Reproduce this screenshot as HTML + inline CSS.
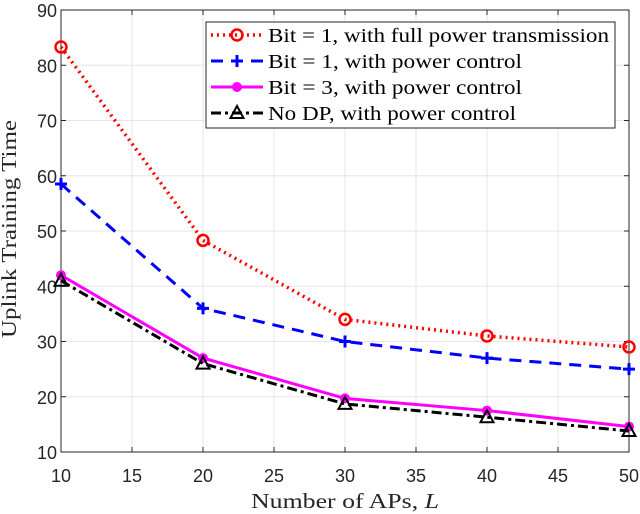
<!DOCTYPE html>
<html><head><meta charset="utf-8"><style>
body{margin:0;background:#fff;}
svg{display:block;}
.tick{font-family:"Liberation Sans",sans-serif;font-size:18px;fill:#262626;}
.lab{font-family:"Liberation Serif",serif;font-size:21px;fill:#262626;}
.leg{font-family:"Liberation Serif",serif;font-size:20px;fill:#000;}
</style></head><body>
<svg id="chart" width="640" height="514" xmlns="http://www.w3.org/2000/svg"></svg>
<script>
const xValues=[10,20,30,40,50];
const redFull=[83.3,48.3,34,31,29];
const bluePC=[58.5,36,30,27,25];
const magBit3=[42,27,19.7,17.5,14.6];
const blackNoDP=[41,26,18.7,16.3,13.8];
const xTicks=[10,15,20,25,30,35,40,45,50];
const yTicks=[10,20,30,40,50,60,70,80,90];
const legendLabels=["Bit = 1, with full power transmission","Bit = 1, with power control","Bit = 3, with power control","No DP, with power control"];
const legendLens=[341,254,254,248];

const NS="http://www.w3.org/2000/svg";
const svg=document.getElementById('chart');
const L=61,R=629,T=10,B=452;
const xs=v=>L+(v-10)/40*(R-L);
const ys=v=>B-(v-10)/80*(B-T);
function mk(tag,attrs,parent){const e=document.createElementNS(NS,tag);for(const k in attrs)e.setAttribute(k,attrs[k]);(parent||svg).appendChild(e);return e;}

const grid=mk('g',{});


xTicks.forEach(t=>{mk('line',{x1:xs(t),x2:xs(t),y1:T,y2:B,stroke:'#e6e6e6','stroke-width':1},grid);
 const tx=mk('text',{x:xs(t),y:B+30,'text-anchor':'middle',class:'tick'});tx.textContent=t;
 
 
 mk('line',{x1:xs(t),x2:xs(t),y1:B,y2:B-5,stroke:'#262626'});mk('line',{x1:xs(t),x2:xs(t),y1:T,y2:T+5,stroke:'#262626'});});
yTicks.forEach(t=>{mk('line',{x1:L,x2:R,y1:ys(t),y2:ys(t),stroke:'#e6e6e6','stroke-width':1},grid);
 const tx=mk('text',{x:L-4,y:ys(t)+7,'text-anchor':'end',class:'tick'});tx.textContent=t;
 
 
 mk('line',{x1:L,x2:L+5,y1:ys(t),y2:ys(t),stroke:'#262626'});mk('line',{x1:R,x2:R-5,y1:ys(t),y2:ys(t),stroke:'#262626'});});
const frame=mk('rect',{x:L,y:T,width:R-L,height:B-T,fill:'none',stroke:'#262626','stroke-width':1});



const series=[
 {d:redFull,c:'#ff0000',dash:'2 4',w:3.5,m:'circle',name:'series-bit1-full-power'},
 {d:bluePC,c:'#0000ff',dash:'12 8',w:3,m:'plus',name:'series-bit1-power-control'},
 {d:magBit3,c:'#ff00ff',dash:'',w:3,m:'dot',name:'series-bit3-power-control'},
 {d:blackNoDP,c:'#000',dash:'10 4 3 4',w:3,m:'tri',name:'series-no-dp'}];
function marker(g,m,x,y,c){
 if(m==='circle')mk('circle',{cx:x,cy:y,r:5.5,fill:'none',stroke:c,'stroke-width':2.5},g);
 else if(m==='plus'){mk('path',{d:`M${x-6} ${y}H${x+6}M${x} ${y-6}V${y+6}`,stroke:c,'stroke-width':3},g);}
 else if(m==='dot')mk('circle',{cx:x,cy:y,r:4.5,fill:c,stroke:c},g);
 else mk('path',{d:`M${x} ${y-7}L${x+6.5} ${y+5}L${x-6.5} ${y+5}Z`,fill:'none',stroke:c,'stroke-width':2},g);}
series.forEach(s=>{const g=mk('g',{});
 
 
 mk('polyline',{points:s.d.map((v,i)=>xs(xValues[i])+','+ys(v)).join(' '),fill:'none',stroke:s.c,'stroke-width':s.w,'stroke-dasharray':s.dash},g);
 s.d.forEach((v,i)=>marker(g,s.m,xs(xValues[i]),ys(v),s.c));});

const lg=mk('g',{});


mk('rect',{x:206,y:22,width:409,height:106,fill:'#fff',stroke:'#262626'},lg);
series.forEach((s,i)=>{const y=35+i*26;const e=mk('g',{},lg);
 
 
 mk('line',{x1:211,x2:263,y1:y,y2:y,stroke:s.c,'stroke-width':s.w,'stroke-dasharray':s.dash},e);
 marker(e,s.m,237,y,s.c);
 const t=mk('text',{x:268,y:y+7,class:'leg',textLength:legendLens[i],lengthAdjust:'spacingAndGlyphs'},e);t.textContent=legendLabels[i];});

const xl=mk('text',{x:251,y:508,class:'lab',textLength:188,lengthAdjust:'spacingAndGlyphs'});
xl.innerHTML='Number of APs, <tspan font-style="italic">L</tspan>';


const yl=mk('text',{x:0,y:0,'text-anchor':'middle',class:'lab',textLength:218,lengthAdjust:'spacingAndGlyphs',transform:`translate(16 229) rotate(-90)`});
yl.textContent='Uplink Training Time';


</script>
</body></html>
